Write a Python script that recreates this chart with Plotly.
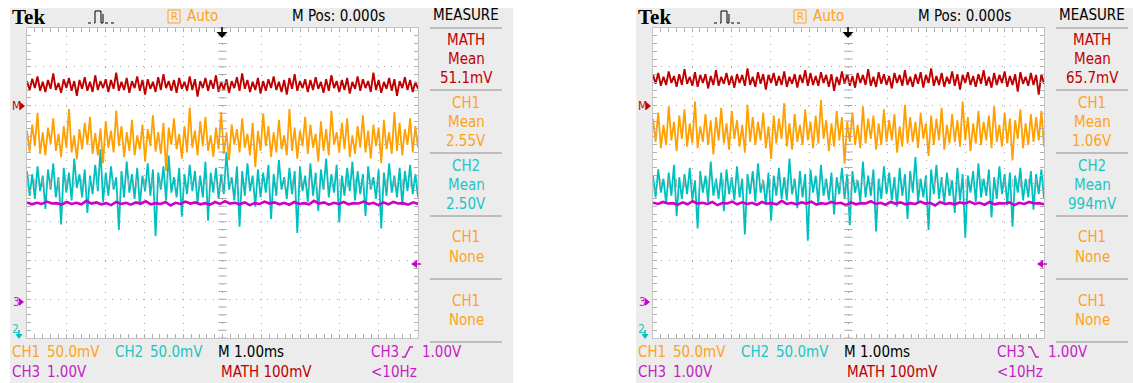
import numpy as np
import plotly.graph_objects as go

W, H = 1133, 383

# ---------------- data (deviations in mV around each channel's displayed level) ----------------
# volts/div settings
CH1_SCALE = 50.0     # mV/div
CH2_SCALE = 50.0     # mV/div
CH3_SCALE = 1000.0   # mV/div
MATH_SCALE = 100.0   # mV/div

# displayed levels (divisions from screen centre) for [left capture, right capture]
math_level = [2.53, 2.66]
ch1_level = [1.11, 1.30]
ch2_level = [0.03, -0.05]
ch3_level = [-0.52, -0.52]

math_left = [10,-13,16,-8,22,-15,8,-18,13,-10,30,-13,5,-20,15,-8,18,-15,10,-28,13,-10,20,-15,8,-18,25,-13,10,-8,
             15,-18,13,-10,32,-15,8,-13,18,-20,10,-8,22,-15,13,-25,15,-10,8,-18,20,-13,28,-8,10,-15,13,-20,18,-10,
             8,-15,22,-13,15,-30,10,-8,18,-15,13,-10,25,-18,8,-13,15,-20,10,-8,20,-15,30,-10,13,-18,8,-13,18,-22,
             10,-15,15,-8,22,-13,8,-18,13,-25,18,-10,28,-15,10,-8,15,-18,13,-13,20,-10,8,-20,15,-15,25,-8,10,-18,
             13,-13,18,-22,8,-10,22,-15,15,-8,10,-18,32,-13,13,-20,8,-10,18,-15,15,-28,10,-8,20,-13,13,-18,8,-10]
ch1_left = [12,-15,20,-8,35,-18,10,-20,16,-5,28,-14,8,-22,18,-10,40,-16,6,-25,14,-12,22,-6,30,-18,9,-20,15,-30,
            24,-10,12,-16,38,-8,18,-22,10,-14,26,-20,6,-12,20,-28,14,-8,32,-15,10,-18,22,-40,16,-6,28,-12,8,-24,
            18,-16,42,-10,12,-20,24,-8,30,-14,6,-22,16,-12,36,-18,10,-26,20,-6,14,-16,28,-10,8,-20,22,-35,12,-14,
            34,-8,18,-22,10,-16,26,-12,6,-20,40,-14,16,-24,12,-8,30,-18,20,-10,8,-28,24,-14,14,-20,38,-6,10,-16,
            22,-12,28,-22,6,-18,18,-10,32,-16,12,-24,20,-8,16,-30,26,-12,10,-18,36,-14,22,-20,14,-6,28,-16,18,-10]
ch2_left = [14,-18,10,-22,20,-12,8,-35,16,-10,24,-20,6,-55,18,-14,12,-24,30,-8,10,-20,16,-40,8,-16,22,-12,42,-26,
            12,-18,20,-10,6,-62,14,-20,26,-14,10,-22,18,-30,8,-12,24,-18,16,-70,12,-10,20,-24,34,-14,6,-20,18,-45,
            10,-16,22,-12,14,-28,8,-20,26,-50,12,-14,18,-22,10,-16,38,-10,6,-24,20,-58,14,-18,24,-12,8,-32,16,-20,
            12,-14,22,-48,10,-18,28,-10,6,-22,18,-16,14,-66,20,-12,8,-26,24,-18,12,-38,16,-10,30,-20,10,-14,22,-52,
            8,-18,18,-12,26,-24,14,-16,10,-44,20,-10,6,-22,16,-60,12,-18,24,-14,8,-20,18,-30,14,-12,22,-16,10,-20]
ch3_left = [20,-30,10,-20,40,-10,0,-40,30,-20,10,-30,60,-10,20,-30,0,-50,30,-20,10,-40,20,-10,50,-30,0,-20,30,-60,
            10,-20,40,-10,20,-30,0,-40,30,-20,50,-10,10,-30,20,-50,0,-20,40,-10,20,-30,10,-40,30,-20,0,-30,60,-10,
            20,-40,10,-20,30,-30,0,-10,40,-20,10,-50,20,-30,30,-10,0,-40,20,-20]

math_right = [13,-10,18,-15,8,-13,22,-8,10,-18,15,-13,28,-10,8,-15,20,-18,13,-8,15,-22,10,-13,25,-15,8,-10,18,-13,
              10,-20,15,-8,13,-15,30,-13,8,-18,20,-10,15,-25,13,-8,18,-15,10,-13,22,-18,8,-10,15,-20,13,-8,25,-15,
              18,-13,10,-15,20,-8,13,-18,15,-28,8,-13,22,-10,15,-15,10,-20,18,-8,13,-13,28,-15,8,-18,20,-10,15,-13,
              10,-22,18,-8,13,-15,25,-13,8,-18,15,-10,20,-20,13,-8,30,-15,10,-13,18,-18,8,-10,22,-15,15,-25,13,-8,
              20,-13,10,-18,15,-10,25,-15,8,-20,18,-13,13,-8,22,-18,10,-13,15,-30,20,-10,8,-15,18,-13,13,-38,15,-10]
ch1_right = [18,-12,26,-20,10,-16,34,-10,14,-24,22,-8,30,-18,12,-14,40,-20,8,-12,24,-16,16,-28,20,-10,32,-14,12,-22,
             28,-8,16,-18,10,-26,36,-12,20,-16,14,-10,26,-20,8,-34,22,-14,18,-8,38,-18,12,-22,24,-12,10,-16,30,-10,
             14,-20,22,-14,42,-8,16,-24,12,-18,28,-10,20,-40,14,-12,26,-16,10,-20,34,-14,18,-8,22,-22,12,-16,30,-12,
             16,-10,24,-26,8,-18,36,-14,20,-12,14,-20,26,-8,12,-30,22,-16,18,-10,32,-22,10,-14,24,-12,16,-18,40,-10,
             20,-24,12,-14,28,-16,14,-10,22,-20,34,-12,10,-18,26,-14,18,-36,16,-8,30,-20,12,-16,24,-12,20,-10,28,-18]
ch2_right = [12,-16,20,-10,8,-24,16,-14,26,-40,10,-18,14,-12,22,-20,6,-56,18,-10,12,-22,30,-14,8,-18,16,-34,20,-12,
             10,-20,24,-16,8,-64,14,-12,18,-22,28,-10,6,-26,16,-46,12,-14,22,-18,10,-20,34,-12,8,-30,18,-16,14,-72,
             20,-10,12,-24,26,-14,8,-20,16,-38,10,-12,22,-18,14,-52,18,-10,6,-22,30,-16,12,-14,20,-60,8,-18,24,-12,
             16,-20,10,-28,22,-14,14,-44,18,-10,36,-22,8,-16,12,-58,20,-12,26,-18,10,-24,16,-14,6,-36,22,-20,14,-68,
             12,-10,18,-22,28,-16,8,-14,20,-42,10,-18,24,-12,14,-26,16,-54,12,-10,22,-20,8,-16,18,-32,14,-12,20,-18]
ch3_right = [10,-20,30,-10,0,-40,20,-30,50,-10,10,-20,30,-50,0,-10,40,-30,20,-20,10,-40,30,-10,0,-30,60,-20,10,-30,
             20,-10,40,-40,0,-20,30,-10,10,-50,20,-30,0,-10,50,-20,10,-40,30,-10,20,-30,0,-20,40,-10,10,-60,30,-20,
             0,-30,20,-10,40,-20,10,-40,30,-30,0,-10,20,-50,10,-20,30,-10,0,-30]

measure_values = [["51.1mV", "2.55V", "2.50V"], ["65.7mV", "1.06V", "994mV"]]
trigger_slope = ["rise", "fall"]

# ---------------- styling ----------------
RED = "#c00000"
ORANGE = "#ffa000"
ORANGE_T = "#ffa31a"
CYAN = "#00bfbf"
CYAN_T = "#1cc4c4"
MAGENTA = "#cc00cc"
MAGENTA_T = "#c41fc4"
GREY = "#ececec"
FONT = "Liberation Sans Narrow, DejaVu Sans Condensed, Arial Narrow, sans-serif"

def X(px):
    return px / W

def Y(py):
    return 1 - py / H

OFFSETS = [0, 626]

fig = go.Figure()
shapes = []
annotations = []

def ann(text, x, y, color, size=15, xanchor="left", family=FONT, bold=False):
    if bold:
        text = "<b>" + text + "</b>"
    annotations.append(dict(text=text, x=X(x), y=Y(y), xref="paper", yref="paper",
                            xanchor=xanchor, yanchor="middle", showarrow=False,
                            font=dict(family=family, size=size, color=color), borderpad=0))

def path(points, color, width=1, fill=None, closed=False, dash=None):
    d = "M" + " L".join(f"{X(px):.5f},{Y(py):.5f}" for px, py in points)
    if closed:
        d += " Z"
    s = dict(type="path", path=d, xref="paper", yref="paper", layer="above",
             line=dict(color=color, width=width, dash=dash) if width > 0 else dict(width=0))
    if fill:
        s["fillcolor"] = fill
    shapes.append(s)

def rect(x0, y0, x1, y1, fill, line=None, lw=0, layer="below"):
    shapes.append(dict(type="rect", xref="paper", yref="paper", x0=X(x0), x1=X(x1), y0=Y(y1), y1=Y(y0),
                       fillcolor=fill, line=dict(color=line or fill, width=lw), layer=layer))

def line(x0, y0, x1, y1, color, width=1):
    shapes.append(dict(type="line", xref="paper", yref="paper", x0=X(x0), x1=X(x1), y0=Y(y0), y1=Y(y1),
                       line=dict(color=color, width=width), layer="above"))

captures = [
    dict(math=math_left, ch1=ch1_left, ch2=ch2_left, ch3=ch3_left),
    dict(math=math_right, ch1=ch1_right, ch2=ch2_right, ch3=ch3_right),
]

for i, off in enumerate(OFFSETS):
    # panel backgrounds
    rect(10 + off, 8, 513 + off if i == 0 else W, H, GREY)
    rect(27 + off, 28, 418 + off, 338, "white")

    xa = "xaxis" if i == 0 else "xaxis2"
    ya = "yaxis" if i == 0 else "yaxis2"
    xr = "x" if i == 0 else "x2"
    yr = "y" if i == 0 else "y2"

    cap = captures[i]
    series = [
        (cap["ch2"], CH2_SCALE, ch2_level[i], CYAN, 1.8),
        (cap["ch1"], CH1_SCALE, ch1_level[i], ORANGE, 1.8),
        (cap["math"], MATH_SCALE, math_level[i], RED, 1.9),
        (cap["ch3"], CH3_SCALE, ch3_level[i], MAGENTA, 2.6),
    ]
    for vals, scale, lvl, col, lw in series:
        v = np.array(vals, dtype=float)
        t = np.linspace(-5, 5, len(v))
        fig.add_trace(go.Scatter(x=t, y=lvl + v / scale, mode="lines", xaxis=xr, yaxis=yr,
                                 line=dict(color=col, width=lw), hoverinfo="skip", showlegend=False))

    # graticule centre-line ticks
    yt = np.arange(-4, 4.001, 0.2)
    xt = np.arange(-5, 5.001, 0.2)
    fig.add_trace(go.Scatter(x=np.zeros_like(yt), y=yt, mode="markers", xaxis=xr, yaxis=yr,
                             marker=dict(symbol="line-ew", size=6, line=dict(color="#aaaaaa", width=1)),
                             hoverinfo="skip", showlegend=False))
    fig.add_trace(go.Scatter(x=xt, y=np.zeros_like(xt), mode="markers", xaxis=xr, yaxis=yr,
                             marker=dict(symbol="line-ns", size=6, line=dict(color="#aaaaaa", width=1)),
                             hoverinfo="skip", showlegend=False))

    axis_common = dict(showgrid=True, gridcolor="#a8a8a8", gridwidth=1, griddash="1.2px,6.55px",
                       zeroline=False, showline=True, linecolor="#c4c4c4", linewidth=1, mirror="ticks",
                       ticks="inside", ticklen=4, tickcolor="#b0b0b0", tickwidth=1,
                       showticklabels=False, fixedrange=True,
                       minor=dict(dtick=0.2, ticks="inside", ticklen=4, tickcolor="#b0b0b0", showgrid=False))
    fig.update_layout(**{
        xa: dict(axis_common, domain=[X(27 + off), X(418 + off)], range=[-5, 5], dtick=1, tick0=0,
                 anchor=yr),
        ya: dict(axis_common, domain=[Y(338), Y(28)], range=[-4, 4], dtick=1, tick0=0, anchor=xr),
    })

    # header
    ann("Tek", 11 + off, 17, "black", size=21, family="Liberation Serif, DejaVu Serif, serif", bold=True)
    path([(88 + off, 23), (94 + off, 23)], "black", 1, dash="dot")
    path([(94 + off, 23), (95 + off, 23), (95 + off, 11), (101 + off, 11), (101 + off, 23),
          (103 + off, 23), (103 + off, 14)], "black", 1)
    path([(105 + off, 23), (117 + off, 23)], "black", 1, dash="dot")
    rect(168 + off, 10, 180 + off, 23, "rgba(0,0,0,0)", line=ORANGE_T, lw=1, layer="above")
    ann("R", 174 + off, 16.5, ORANGE_T, size=11, xanchor="center")
    ann("Auto", 186 + off, 16, ORANGE_T)
    ann("M Pos: 0.000s", 291 + off, 16, "black")
    ann("MEASURE", 466 + off, 15, "black", xanchor="center")

    # trigger position marker
    path([(222 + off, 27), (222 + off, 33)], "black", 1.5)
    path([(216.5 + off, 32), (227.5 + off, 32), (222 + off, 38)], "black", 0, fill="black", closed=True)

    # trigger level marker
    path([(411 + off, 264), (417 + off, 260), (417 + off, 268)], MAGENTA, 0, fill=MAGENTA, closed=True)
    path([(416 + off, 264), (421 + off, 264)], MAGENTA, 1.5)

    # channel ground markers
    ann("M", 11 + off, 106, RED, size=12)
    path([(20 + off, 102), (25 + off, 106), (20 + off, 110)], RED, 0, fill=RED, closed=True)
    ann("3", 12 + off, 302, MAGENTA_T, size=12)
    path([(19 + off, 298), (24 + off, 302), (19 + off, 306)], MAGENTA, 0, fill=MAGENTA, closed=True)
    ann("2", 11 + off, 329, CYAN_T, size=12)
    path([(19 + off, 330), (19 + off, 337)], CYAN, 1.5)
    path([(15.5 + off, 334), (22.5 + off, 334), (19 + off, 339)], CYAN, 0, fill=CYAN, closed=True)

    # measure panel
    for sy in [28, 90, 153, 216, 279, 342]:
        line(430 + off, sy, 502 + off, sy, "#bdbdbd", 2)
    mv = measure_values[i]
    cx = 466 + off
    ann("MATH", cx, 40, RED, xanchor="center")
    ann("Mean", cx, 59, RED, xanchor="center")
    ann(mv[0], cx, 78, RED, xanchor="center")
    ann("CH1", cx, 103, ORANGE_T, xanchor="center")
    ann("Mean", cx, 122, ORANGE_T, xanchor="center")
    ann(mv[1], cx, 141, ORANGE_T, xanchor="center")
    ann("CH2", cx, 166, CYAN_T, xanchor="center")
    ann("Mean", cx, 185, CYAN_T, xanchor="center")
    ann(mv[2], cx, 204, CYAN_T, xanchor="center")
    ann("CH1", cx, 237, ORANGE_T, xanchor="center")
    ann("None", cx, 257, ORANGE_T, xanchor="center")
    ann("CH1", cx, 301, ORANGE_T, xanchor="center")
    ann("None", cx, 320, ORANGE_T, xanchor="center")

    # footer
    ann("CH1", 11 + off, 352, ORANGE_T)
    ann("50.0mV", 46 + off, 352, ORANGE_T)
    ann("CH2", 114 + off, 352, CYAN_T)
    ann("50.0mV", 149 + off, 352, CYAN_T)
    ann("M 1.00ms", 217 + off, 352, "black")
    ann("CH3", 370 + off, 352, MAGENTA_T)
    if trigger_slope[i] == "rise":
        path([(402 + off, 357), (405 + off, 357), (410 + off, 347), (413 + off, 347)], MAGENTA_T, 1.5)
    else:
        path([(402 + off, 347), (405 + off, 347), (410 + off, 357), (413 + off, 357)], MAGENTA_T, 1.5)
    ann("1.00V", 421 + off, 352, MAGENTA_T)
    ann("CH3", 11 + off, 372, MAGENTA_T)
    ann("1.00V", 46 + off, 372, MAGENTA_T)
    ann("MATH 100mV", 220 + off, 372, RED)
    ann("&lt;10Hz", 370 + off, 372, MAGENTA_T)

fig.update_layout(width=W, height=H, margin=dict(l=0, r=0, t=0, b=0),
                  paper_bgcolor="white", plot_bgcolor="rgba(0,0,0,0)",
                  showlegend=False, shapes=shapes, annotations=annotations)

fig.write_html("out.html")
